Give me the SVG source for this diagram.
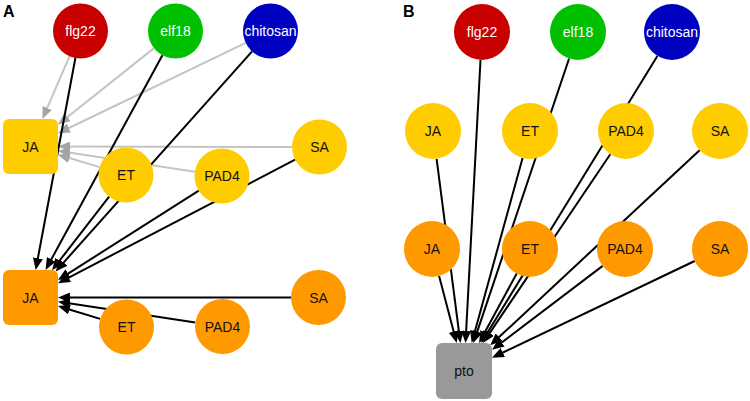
<svg xmlns="http://www.w3.org/2000/svg" width="750" height="401" viewBox="0 0 750 401">
<style>
.lbl{font-family:"Liberation Sans",Arial,sans-serif;font-size:14px;text-anchor:middle;fill:#111}
.w{fill:#ffffff}
.panel{font-family:"Liberation Sans",Arial,sans-serif;font-size:16px;font-weight:bold;fill:#000}
.e{stroke:#000;stroke-width:2;fill:none;marker-end:url(#ab)}
.g{stroke:#c4c4c4;stroke-width:2;fill:none;marker-end:url(#ag)}
.red{fill:#c80000}.green{fill:#00c000}.blue{fill:#0000c0}
.yel{fill:#ffcc00}.ora{fill:#ff9900}.gray{fill:#999999}
</style>
<defs>
<marker id="ab" markerUnits="userSpaceOnUse" markerWidth="12" markerHeight="10" refX="1" refY="5" orient="auto"><path d="M0,0 L12,5 L0,10 z" fill="#000"/></marker>
<marker id="ag" markerUnits="userSpaceOnUse" markerWidth="12" markerHeight="10" refX="1" refY="5" orient="auto"><path d="M0,0 L12,5 L0,10 z" fill="#a4a4a4"/></marker>
</defs>
<rect width="750" height="401" fill="#fff"/>
<text class="panel" x="3" y="17">A</text>
<text class="panel" x="403" y="17">B</text>
<g id="connectors">
<line class="g" x1="69.6" y1="56.2" x2="46.8" y2="108.9"/>
<line class="g" x1="154" y1="48.1" x2="66.6" y2="117.7"/>
<line class="g" x1="245.7" y1="42.9" x2="67.9" y2="128.5"/>
<line class="g" x1="292" y1="147" x2="69" y2="146.6"/>
<line class="g" x1="99.7" y1="167.1" x2="68.5" y2="157.8"/>
<line class="g" x1="194.8" y1="171.8" x2="68.9" y2="152.4"/>
<line class="e" x1="75.4" y1="58" x2="37.7" y2="259.2"/>
<line class="e" x1="162.4" y1="55.2" x2="50.8" y2="260.3"/>
<line class="e" x1="252.1" y1="51.4" x2="62.9" y2="263.3"/>
<line class="e" x1="109.1" y1="196.7" x2="58.8" y2="261.6"/>
<line class="e" x1="198.8" y1="190.7" x2="67.3" y2="274.1"/>
<line class="e" x1="295.1" y1="159.7" x2="67.8" y2="278.1"/>
<line class="e" x1="291" y1="297.5" x2="69" y2="297.5"/>
<line class="e" x1="100.2" y1="318.9" x2="68.5" y2="309.2"/>
<line class="e" x1="195.3" y1="322.4" x2="68.9" y2="303.3"/>
<line class="e" x1="480.5" y1="60" x2="466.1" y2="332"/>
<line class="e" x1="569.1" y1="58.5" x2="476.9" y2="332.6"/>
<line class="e" x1="657.4" y1="55.9" x2="486.9" y2="333.6"/>
<line class="e" x1="436.6" y1="158.8" x2="459" y2="332.1"/>
<line class="e" x1="522.6" y1="158" x2="474.6" y2="332.4"/>
<line class="e" x1="610.3" y1="154.2" x2="489.1" y2="333.9"/>
<line class="e" x1="699.6" y1="150.2" x2="498.3" y2="337.8"/>
<line class="e" x1="439.1" y1="276.1" x2="453.9" y2="332.4"/>
<line class="e" x1="516.7" y1="273.6" x2="484.3" y2="333.3"/>
<line class="e" x1="602.7" y1="265.9" x2="500.8" y2="343.2"/>
<line class="e" x1="694.7" y1="261" x2="501.9" y2="353"/>
</g>
<g id="A_flg22"><circle class="red" cx="80.5" cy="31" r="27.5"/><text class="lbl w" x="80.5" y="36">flg22</text></g>
<g id="A_elf18"><circle class="green" cx="175.5" cy="31" r="27.5"/><text class="lbl w" x="175.5" y="36">elf18</text></g>
<g id="A_chitosan"><circle class="blue" cx="270.5" cy="31" r="27.5"/><text class="lbl w" x="270.5" y="36">chitosan</text></g>
<g id="A_JA_y"><rect class="yel" x="3" y="119" width="55" height="55" rx="6"/><text class="lbl" x="30.5" y="151.5">JA</text></g>
<g id="A_ET_y"><circle class="yel" cx="126" cy="175" r="27.5"/><text class="lbl" x="126" y="180">ET</text></g>
<g id="A_PAD4_y"><circle class="yel" cx="222" cy="176" r="27.5"/><text class="lbl" x="222" y="181">PAD4</text></g>
<g id="A_SA_y"><circle class="yel" cx="319.5" cy="147" r="27.5"/><text class="lbl" x="319.5" y="152">SA</text></g>
<g id="A_JA_o"><rect class="ora" x="3" y="270" width="55" height="55" rx="6"/><text class="lbl" x="30.5" y="302.5">JA</text></g>
<g id="A_ET_o"><circle class="ora" cx="126.5" cy="327" r="27.5"/><text class="lbl" x="126.5" y="332">ET</text></g>
<g id="A_PAD4_o"><circle class="ora" cx="222.5" cy="326.5" r="27.5"/><text class="lbl" x="222.5" y="331.5">PAD4</text></g>
<g id="A_SA_o"><circle class="ora" cx="318.5" cy="297.5" r="27.5"/><text class="lbl" x="318.5" y="302.5">SA</text></g>
<g id="B_flg22"><circle class="red" cx="482" cy="32" r="28"/><text class="lbl w" x="482" y="37">flg22</text></g>
<g id="B_elf18"><circle class="green" cx="578" cy="32" r="28"/><text class="lbl w" x="578" y="37">elf18</text></g>
<g id="B_chitosan"><circle class="blue" cx="672" cy="32" r="28"/><text class="lbl w" x="672" y="37">chitosan</text></g>
<g id="B_JA_y"><circle class="yel" cx="433" cy="131" r="28"/><text class="lbl" x="433" y="136">JA</text></g>
<g id="B_ET_y"><circle class="yel" cx="530" cy="131" r="28"/><text class="lbl" x="530" y="136">ET</text></g>
<g id="B_PAD4_y"><circle class="yel" cx="626" cy="131" r="28"/><text class="lbl" x="626" y="136">PAD4</text></g>
<g id="B_SA_y"><circle class="yel" cx="720" cy="131" r="28"/><text class="lbl" x="720" y="136">SA</text></g>
<g id="B_JA_o"><circle class="ora" cx="432" cy="249" r="28"/><text class="lbl" x="432" y="254">JA</text></g>
<g id="B_ET_o"><circle class="ora" cx="530" cy="249" r="28"/><text class="lbl" x="530" y="254">ET</text></g>
<g id="B_PAD4_o"><circle class="ora" cx="625" cy="249" r="28"/><text class="lbl" x="625" y="254">PAD4</text></g>
<g id="B_SA_o"><circle class="ora" cx="720" cy="249" r="28"/><text class="lbl" x="720" y="254">SA</text></g>
<g id="B_pto"><rect class="gray" x="436" y="343" width="56" height="56" rx="6"/><text class="lbl" x="464" y="376">pto</text></g>
</svg>
